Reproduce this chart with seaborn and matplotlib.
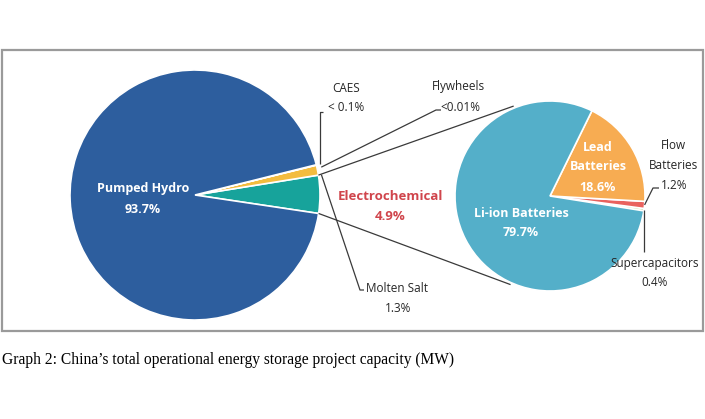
import numpy as np
import seaborn as sns
import matplotlib.pyplot as plt
from matplotlib.patches import Rectangle

# Data
storage_types = ["Electrochemical", "Molten Salt", "CAES", "Pumped Hydro"]
storage_shares = [4.9, 1.3, 0.05, 93.7]
storage_colors = ["#17a39b", "#f3bc3f", "#f3bc3f", "#2d5e9e"]

chem_types = ["Supercapacitors", "Flow Batteries", "Lead Batteries", "Li-ion Batteries"]
chem_shares = [0.4, 1.2, 18.6, 79.7]
chem_colors = ["#b9d38b", "#e9625e", "#f7ac52", "#54afc9"]

sns.set_theme(style="white")
plt.rcParams['font.family'] = ['Open Sans', 'DejaVu Sans']

fig = plt.figure(figsize=(7.05, 4.19), dpi=100)
ax = fig.add_axes([0, 0, 1, 1])

# frame round the chart
fig.patches.append(Rectangle((2 / 705, 88 / 419), 701 / 705, 281 / 419, transform=fig.transFigure,
                             fill=False, edgecolor='#9a9a9a', lw=1.6))

big_c, big_r = (195, 224), 125
small_c, small_r = (550, 223), 95

w1, _ = ax.pie(storage_shares, colors=storage_colors, startangle=-8.5, counterclock=True,
               center=big_c, radius=big_r, wedgeprops=dict(edgecolor='white', linewidth=1.2),
               frame=True)
w2, _ = ax.pie(chem_shares, colors=chem_colors, startangle=-9.0, counterclock=True,
               center=small_c, radius=small_r, wedgeprops=dict(edgecolor='white', linewidth=1.2),
               frame=True)
ax.set_xlim(0, 705)
ax.set_ylim(0, 419)
ax.set_aspect('equal')
ax.axis('off')


def edge_pt(c, r, ang):
    a = np.deg2rad(ang)
    return c[0] + r * np.cos(a), c[1] + r * np.sin(a)


line_kw = dict(color='#3a3a3a', lw=0.9, solid_capstyle='butt')
txt_kw = dict(fontsize=8.5, va='center', color='#262626')
in_kw = dict(fontsize=9, fontweight='bold', ha='center', va='center', color='white')

# connection lines from the Electrochemical slice to the breakdown pie
chem = w1[0]
for ang_big, ang_small in [(chem.theta2, 112), (chem.theta1, 246)]:
    x0, y0 = edge_pt(big_c, big_r, ang_big)
    x1, y1 = edge_pt(small_c, small_r + 2, ang_small)
    ax.plot([x0, x1], [y0, y1], **line_kw)

# leaders on the big pie
caes = w1[2]
cx, cy = edge_pt(big_c, big_r + 4, caes.theta1)
ax.plot([cx, cx, cx + 3], [cy, 307, 307], **line_kw)
ax.text(328, 312, "< 0.1%", ha='left', **txt_kw)
ax.text(346, 331, "CAES", ha='center', **txt_kw)

ax.plot([cx + 1, 436, 441], [cy - 3, 309, 309], **line_kw)
ax.text(460, 312, "<0.01%", ha='center', **txt_kw)
ax.text(458, 333, "Flywheels", ha='center', **txt_kw)

molten = w1[1]
mx, my = edge_pt(big_c, big_r + 3, molten.theta1)
ax.plot([mx, 360, 364], [my, 129, 129], **line_kw)
ax.text(366, 130, "Molten Salt", ha='left', **txt_kw)
ax.text(398, 111, "1.3%", ha='center', **txt_kw)

ax.text(143, 231, "Pumped Hydro", **in_kw)
ax.text(143, 210, "93.7%", **in_kw)
ax.text(390, 223, "Electrochemical", fontsize=9.5, fontweight='bold', ha='center', va='center', color='#d0454c')
ax.text(390, 203, "4.9%", fontsize=9.5, fontweight='bold', ha='center', va='center', color='#d0454c')

# labels on the breakdown pie
ax.text(598, 272, "Lead", **in_kw)
ax.text(598, 253, "Batteries", **in_kw)
ax.text(598, 232, "18.6%", **in_kw)
ax.text(521, 206, "Li-ion Batteries", **in_kw)
ax.text(521, 187, "79.7%", **in_kw)

flow = w2[1]
fx, fy = edge_pt(small_c, small_r, (flow.theta1 + flow.theta2) / 2)
ax.plot([fx, 653, 659], [fy, 231, 231], **line_kw)
ax.text(673, 274, "Flow", ha='center', **txt_kw)
ax.text(673, 254, "Batteries", ha='center', **txt_kw)
ax.text(674, 234, "1.2%", ha='center', **txt_kw)

sup = w2[0]
sx, sy = edge_pt(small_c, small_r, (sup.theta1 + sup.theta2) / 2)
ax.plot([sx, sx], [sy, 167], **line_kw)
ax.text(655, 156, "Supercapacitors", ha='center', **txt_kw)
ax.text(655, 137, "0.4%", ha='center', **txt_kw)

# caption
ax.text(2, 59, "Graph 2: China\u2019s total operational energy storage project capacity (MW)",
        fontsize=11.2, family='Liberation Serif', ha='left', va='center', color='black')

fig.savefig('out.png', dpi=100)
